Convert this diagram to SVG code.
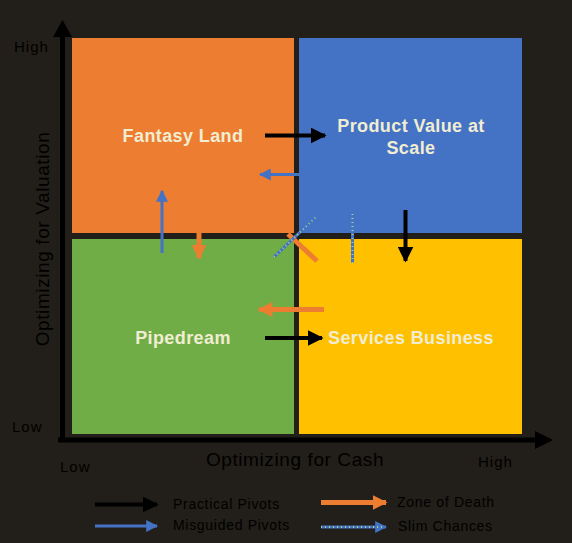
<svg xmlns="http://www.w3.org/2000/svg" width="572" height="543" viewBox="0 0 572 543">
<style>
.ax{font-family:"Liberation Sans",Arial,sans-serif;font-size:15px;letter-spacing:1px;fill:#000}
.axt{font-family:"Liberation Sans",Arial,sans-serif;font-size:19px;letter-spacing:0.6px;fill:#000}
.q{font-family:"Liberation Sans",Arial,sans-serif;font-size:18px;letter-spacing:0.4px;font-weight:bold;fill:#F0EDD2;text-anchor:middle}
.lg{font-family:"Liberation Sans",Arial,sans-serif;font-size:14px;letter-spacing:0.7px;fill:#000}
.blk{stroke:#000;stroke-width:4;fill:none}
.blu{stroke:#4472C4;stroke-width:3;fill:none}
.org{stroke:#ED7D31;stroke-width:5;fill:none}
.slim{stroke:#4472C4;stroke-width:3;fill:none}
.slimd{stroke:#A8D08D;stroke-width:2;stroke-dasharray:1 3;fill:none}
</style>
<defs>
<marker id="hb" viewBox="0 0 10 10" refX="9" refY="5" markerWidth="4" markerHeight="4" orient="auto" markerUnits="strokeWidth"><path d="M0,0L10,5L0,10z" fill="#000"/></marker>
<marker id="hu" viewBox="0 0 10 10" refX="9" refY="5" markerWidth="4" markerHeight="4" orient="auto" markerUnits="strokeWidth"><path d="M0,0L10,5L0,10z" fill="#4472C4"/></marker>
<marker id="ho" viewBox="0 0 10 10" refX="9" refY="5" markerWidth="3" markerHeight="3" orient="auto" markerUnits="strokeWidth"><path d="M0,0L10,5L0,10z" fill="#ED7D31"/></marker>
<marker id="hs" viewBox="0 0 10 10" refX="9" refY="5" markerWidth="4" markerHeight="4" orient="auto" markerUnits="strokeWidth"><path d="M0,0L10,5L0,10z" fill="#4472C4"/></marker>
</defs>
<rect width="572" height="543" fill="#221E19"/>

<g id="axes">
<line x1="62.5" y1="442" x2="62.5" y2="34" stroke="#000" stroke-width="5"/>
<path d="M53,37L62.5,20L72,37z" fill="#000"/>
<line x1="58" y1="440" x2="538" y2="440" stroke="#000" stroke-width="5"/>
<path d="M535,431L553,440L535,449z" fill="#000"/>
<text class="ax" x="14" y="52">High</text>
<text class="ax" x="12" y="432">Low</text>
<text class="ax" x="60" y="472">Low</text>
<text class="ax" x="478" y="467">High</text>
<text class="axt" x="295" y="466" text-anchor="middle">Optimizing for Cash</text>
<text class="axt" transform="translate(49,239) rotate(-90)" text-anchor="middle">Optimizing for Valuation</text>
</g>

<g id="fantasy-land">
<rect x="72" y="38" width="222" height="195" fill="#ED7D31"/>
<text class="q" x="183" y="142">Fantasy Land</text>
</g>
<g id="product-value">
<rect x="299" y="38" width="223" height="195" fill="#4472C4"/>
<text class="q" x="411" y="132">Product Value at</text>
<text class="q" x="411" y="154">Scale</text>
</g>
<g id="pipedream">
<rect x="72" y="239" width="222" height="195" fill="#70AD47"/>
<text class="q" x="183" y="344">Pipedream</text>
</g>
<g id="services-business">
<rect x="299" y="239" width="223" height="195" fill="#FFC000"/>
<text class="q" x="411" y="344">Services Business</text>
</g>

<g id="connectors">
<line class="blk" x1="265" y1="135.5" x2="325" y2="135.5" marker-end="url(#hb)"/>
<line class="blk" x1="265" y1="338" x2="322" y2="338" marker-end="url(#hb)"/>
<line class="blk" x1="405.5" y1="210" x2="405.5" y2="261" marker-end="url(#hb)"/>
<line class="blu" x1="301" y1="174.5" x2="260" y2="174.5" marker-end="url(#hu)"/>
<line class="blu" x1="162" y1="253" x2="162" y2="191" marker-end="url(#hu)"/>
<line class="org" x1="199" y1="226" x2="199" y2="258" marker-end="url(#ho)"/>
<line class="org" x1="288" y1="234" x2="317" y2="261"/>
<line class="org" x1="324" y1="309.5" x2="259" y2="309.5" marker-end="url(#ho)"/>
<line class="slim" x1="274" y1="257" x2="320" y2="213" marker-end="url(#hs)"/>
<line class="slimd" x1="274" y1="257" x2="316" y2="217"/>
<line class="slim" x1="352.5" y1="263" x2="352.5" y2="213" marker-end="url(#hs)"/>
<line class="slimd" x1="352.5" y1="263" x2="352.5" y2="214"/>
</g>

<g id="legend">
<line class="blk" x1="95" y1="504.5" x2="157" y2="504.5" marker-end="url(#hb)"/>
<text class="lg" x="173" y="509">Practical Pivots</text>
<line class="blu" x1="95" y1="526" x2="157" y2="526" marker-end="url(#hu)"/>
<text class="lg" x="173" y="530">Misguided Pivots</text>
<line class="org" x1="321" y1="502.5" x2="386" y2="502.5" marker-end="url(#ho)"/>
<text class="lg" x="397" y="507">Zone of Death</text>
<line class="slim" x1="321" y1="527" x2="386" y2="527" marker-end="url(#hs)"/>
<line class="slimd" x1="321" y1="527" x2="382" y2="527"/>
<text class="lg" x="398" y="531">Slim Chances</text>
</g>
</svg>
